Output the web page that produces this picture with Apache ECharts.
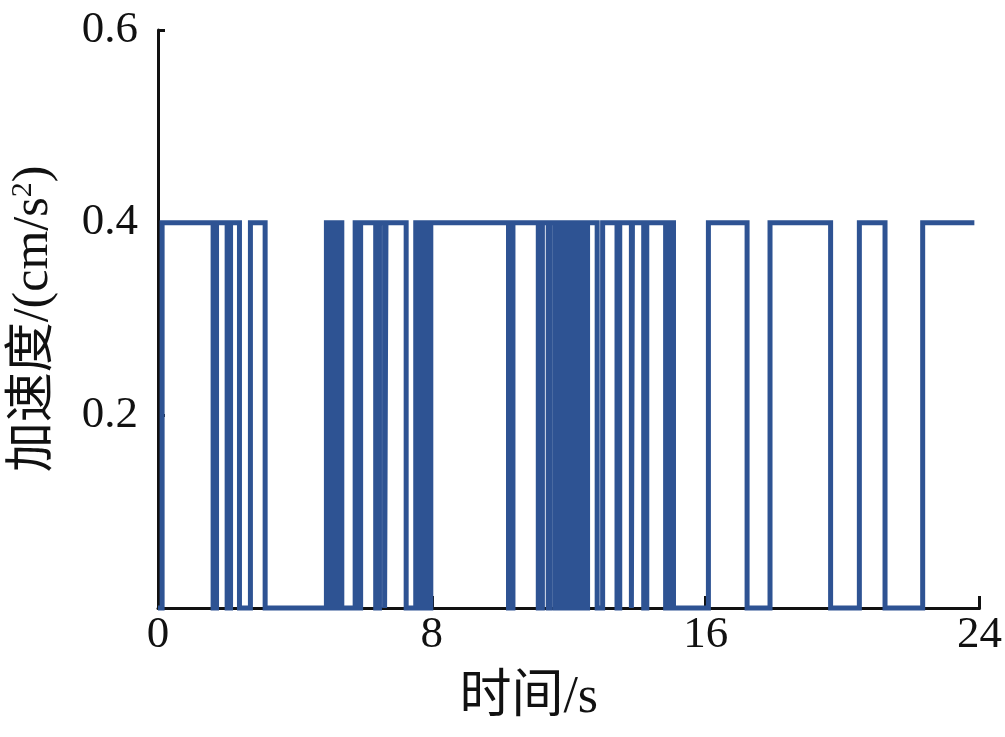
<!DOCTYPE html>
<html>
<head>
<meta charset="utf-8">
<script src="https://cdn.jsdelivr.net/npm/echarts@6/dist/echarts.min.js"></script>
<style>html,body{margin:0;padding:0;background:#fff}#c{width:1005px;height:737px}</style>
</head>
<body>
<div id="c"></div>
<script>
// switching times (s) of the acceleration signal
const times = [0, 0.12, 1.61, 1.71, 2.02, 2.12, 2.38, 2.70, 3.13, 4.92, 5.00, 5.08, 5.19, 5.30, 5.37, 5.76, 5.85, 5.92, 6.36, 6.47, 6.62, 6.66, 7.25, 7.53, 7.62, 7.69, 7.76, 7.84, 7.91, 7.97, 10.24, 10.37, 11.11, 11.23, 11.40, 11.46, 11.61, 11.69, 11.78, 11.87, 11.96, 12.04, 12.13, 12.22, 12.30, 12.39, 12.48, 12.55, 12.83, 12.99, 13.41, 13.49, 13.83, 13.86, 14.19, 14.28, 14.83, 14.95, 15.06, 16.08, 17.21, 17.88, 19.65, 20.49, 21.24, 22.34, 23.85];
// level (cm/s^2) after each switching time
const levels = [0, 0.4, 0, 0.4, 0, 0.4, 0, 0.4, 0, 0.4, 0, 0.4, 0, 0.4, 0, 0.4, 0, 0.4, 0, 0.4, 0, 0.4, 0, 0.4, 0, 0.4, 0, 0.4, 0, 0.4, 0, 0.4, 0, 0.4, 0, 0.4, 0, 0.4, 0, 0.4, 0, 0.4, 0, 0.4, 0, 0.4, 0, 0.4, 0, 0.4, 0, 0.4, 0, 0.4, 0, 0.4, 0, 0.4, 0, 0.4, 0, 0.4, 0, 0.4, 0, 0.4, 0.4];
const xTicks = [0, 8, 16, 24];
const yTicks = [0.2, 0.4, 0.6];
const xName = '时间/s';
const yName = '加速度/(cm/s{sup|2})';

const font = "'Liberation Serif', 'Noto Sans CJK SC', serif";
const data = times.map((t, i) => [t, levels[i]]);
const chart = echarts.init(document.getElementById('c'), null, {renderer: 'canvas'});
chart.setOption({
  animation: false,
  backgroundColor: '#fff',
  grid: {left: 158, right: 15, top: 30, bottom: 129, containLabel: false},
  xAxis: {
    type: 'value', min: xTicks[0], max: xTicks[xTicks.length - 1], interval: xTicks[1] - xTicks[0],
    axisLine: {lineStyle: {color: '#111', width: 3}},
    axisTick: {inside: true, length: 12, lineStyle: {color: '#111', width: 3}},
    axisLabel: {color: '#111', fontSize: 45, fontFamily: font, margin: 5},
    splitLine: {show: false},
    name: xName, nameLocation: 'middle', nameGap: 64,
    nameTextStyle: {color: '#111', fontSize: 52, fontFamily: font, padding: [0, 80, 0, 0]}
  },
  yAxis: {
    type: 'value', min: 0, max: yTicks[yTicks.length - 1], interval: yTicks[0],
    axisLine: {lineStyle: {color: '#111', width: 3}},
    axisTick: {inside: true, length: 7, lineStyle: {color: '#111', width: 3}},
    axisLabel: {color: '#111', fontSize: 45, fontFamily: font, margin: 20,
      formatter: v => (yTicks.some(t => Math.abs(t - v) < 1e-9) ? v.toFixed(1) : '')},
    splitLine: {show: false},
    name: yName, nameLocation: 'middle', nameGap: 98,
    nameTextStyle: {color: '#111', fontSize: 50, fontFamily: font,
      rich: {sup: {fontSize: 30, verticalAlign: 'top', padding: [0, 0, 22, 0], fontFamily: font, color: '#111'}}}
  },
  series: [{
    type: 'line', step: 'end', data: data, symbol: 'none',
    lineStyle: {color: '#2E5393', width: 5, join: 'miter'},
    clip: false
  }]
});
</script>
</body>
</html>
